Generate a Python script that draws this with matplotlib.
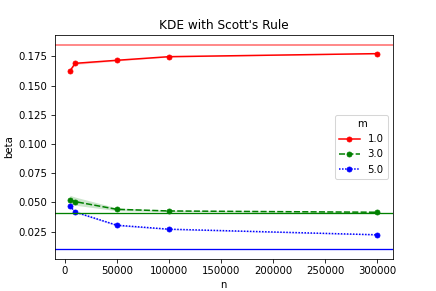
import matplotlib
matplotlib.use("Agg")
import matplotlib.pyplot as plt
import numpy as np

n = [5000, 10000, 50000, 100000, 300000]
m_labels = ["1.0", "3.0", "5.0"]
beta_m1 = [0.1625, 0.1690, 0.1716, 0.1747, 0.1773]
beta_m3 = [0.0523, 0.0506, 0.0440, 0.0426, 0.0415]
beta_m5 = [0.0468, 0.0417, 0.0304, 0.0270, 0.0222]
lo_m1 = [0.1620, 0.1680, 0.1710, 0.1743, 0.1771]
hi_m1 = [0.1630, 0.1700, 0.1722, 0.1751, 0.1775]
lo_m3 = [0.0490, 0.0475, 0.0428, 0.0420, 0.0412]
hi_m3 = [0.0560, 0.0545, 0.0452, 0.0432, 0.0418]
lo_m5 = [0.0460, 0.0410, 0.0298, 0.0266, 0.0219]
hi_m5 = [0.0476, 0.0424, 0.0310, 0.0274, 0.0225]
ref_lines = [0.1846, 0.0405, 0.0102]

colors = ["red", "green", "blue"]
dashes = [None, (4, 1.5), (1, 1)]

fig, ax = plt.subplots(figsize=(6, 4), dpi=72.75)
series = [(beta_m1, lo_m1, hi_m1), (beta_m3, lo_m3, hi_m3), (beta_m5, lo_m5, hi_m5)]
for (y, lo, hi), c, d, lab in zip(series, colors, dashes, m_labels):
    ax.fill_between(n, lo, hi, color=c, alpha=0.2, linewidth=0)
    kw = dict(color=c, marker="o", markersize=5, markeredgewidth=0.75,
              markeredgecolor=c, linewidth=1.5, label=lab)
    if d is not None:
        kw["dashes"] = d
    ax.plot(n, y, **kw)

ax.axhline(ref_lines[0], color="#ff0000", alpha=0.6, linewidth=1.5)
ax.axhline(ref_lines[1], color="#008000", linewidth=1.3)
ax.axhline(ref_lines[2], color="#0000ff", linewidth=1.3)

ax.set_title("KDE with Scott's Rule")
ax.set_xlabel("n")
ax.set_ylabel("beta")
ax.legend(title="m", loc="center right")
fig.savefig("out.png", dpi=72.75)
